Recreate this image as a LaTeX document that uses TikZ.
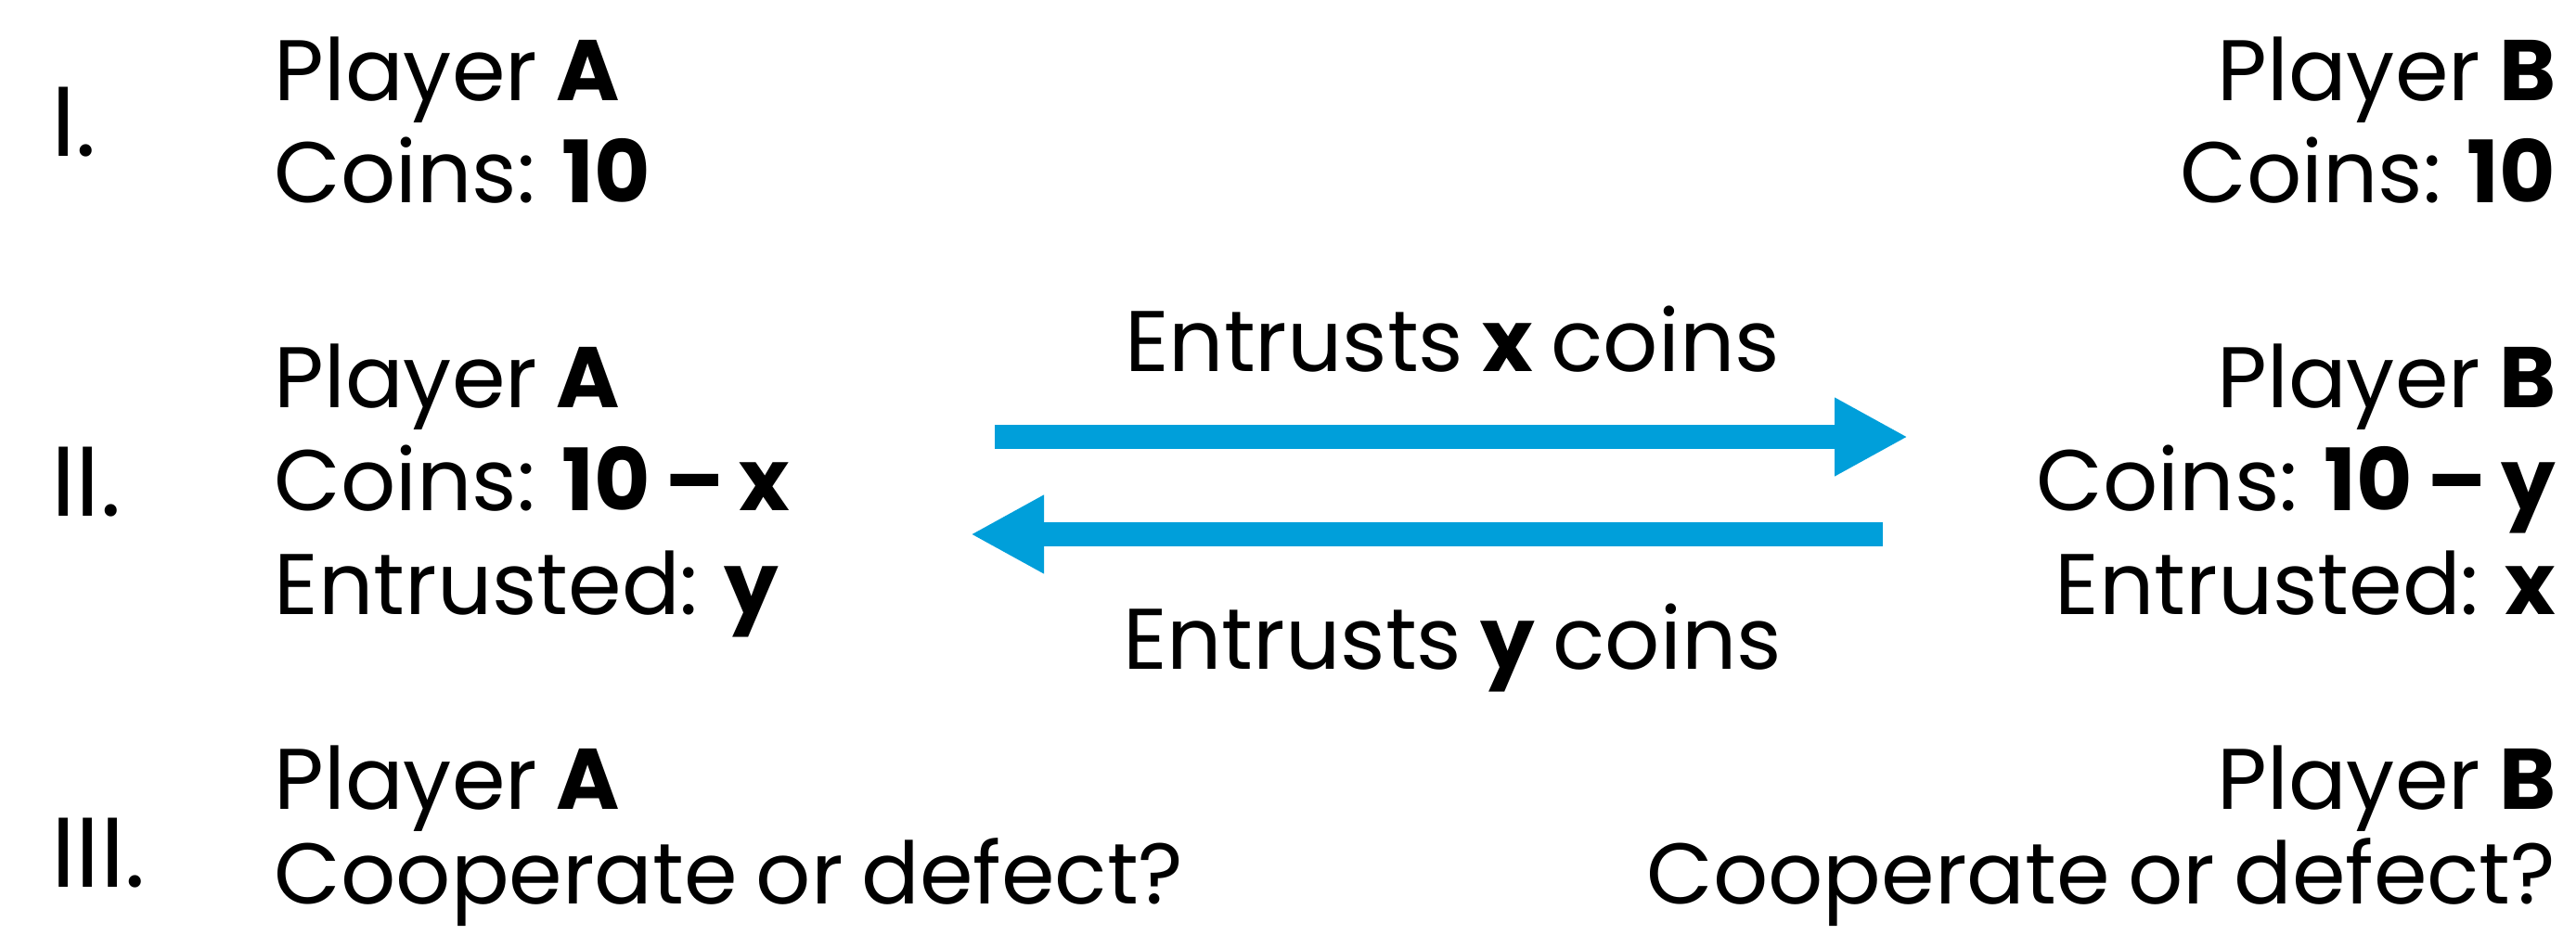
\documentclass[tikz,border=0pt]{standalone}
\usepackage{fontspec}
\setmainfont{Poppins}[WordSpace=0.8]
\usetikzlibrary{arrows.meta}
\definecolor{trustblue}{RGB}{0,159,218}

\begin{document}
\begin{tikzpicture}[
    txt/.style={inner sep=0pt, font=\fontsize{26.4pt}{32pt}\selectfont},
    num/.style={inner sep=0pt, anchor=base west, font=\fontsize{30.4pt}{36pt}\selectfont},
    entrust/.style={line width=0.26cm, color=trustblue, -{Triangle[length=0.79cm,width=0.79cm]}}
  ]
                \useasboundingbox (0,0) rectangle (27.76,-10.07);

                \node[num] (r1) at (0.55,-1.68) {I.};
                \node[num] (r2) at (0.55,-5.56) {II.};
                \node[num] (r3) at (0.55,-9.56) {III.};

                \node[txt, anchor=base west] (a1p) at (2.95,-1.08) {Player \textbf{A}};
                \node[txt, anchor=base west] (a1c) at (2.95,-2.18) {Coins: \textbf{10}};
                \node[txt, anchor=base east] (b1p) at (27.55,-1.08) {Player \textbf{B}};
                \node[txt, anchor=base east] (b1c) at (27.55,-2.18) {Coins: \textbf{10}};

                \node[txt, anchor=base west] (a2p) at (2.95,-4.39) {Player \textbf{A}};
                \node[txt, anchor=base west] (a2c) at (2.95,-5.50) {Coins: \textbf{10 – x}};
                \node[txt, anchor=base west] (a2e) at (2.95,-6.62) {Entrusted: \textbf{y}};
                \node[txt, anchor=base east] (b2p) at (27.55,-4.39) {Player \textbf{B}};
                \node[txt, anchor=base east] (b2c) at (27.55,-5.50) {Coins: \textbf{10 – y}};
                \node[txt, anchor=base east] (b2e) at (27.55,-6.62) {Entrusted: \textbf{x}};

                \node[txt, anchor=base] (gx) at (15.65,-4.00) {Entrusts \textbf{x} coins};
                \node[txt, anchor=base] (gy) at (15.65,-7.21) {Entrusts \textbf{y} coins};

                \coordinate (xs) at (10.72,-4.71);
                \coordinate (xe) at (20.56,-4.71);
                \coordinate (ys) at (20.29,-5.76);
                \coordinate (ye) at (10.46,-5.76);
                \draw[entrust] (xs) -- (xe);
                \draw[entrust] (ys) -- (ye);

                \node[txt, anchor=base west] (a3p) at (2.95,-8.72) {Player \textbf{A}};
                \node[txt, anchor=base west] (a3c) at (2.95,-9.74) {Cooperate or defect?};
                \node[txt, anchor=base east] (b3p) at (27.55,-8.72) {Player \textbf{B}};
                \node[txt, anchor=base east] (b3c) at (27.55,-9.74) {Cooperate or defect?};
\end{tikzpicture}
\end{document}
